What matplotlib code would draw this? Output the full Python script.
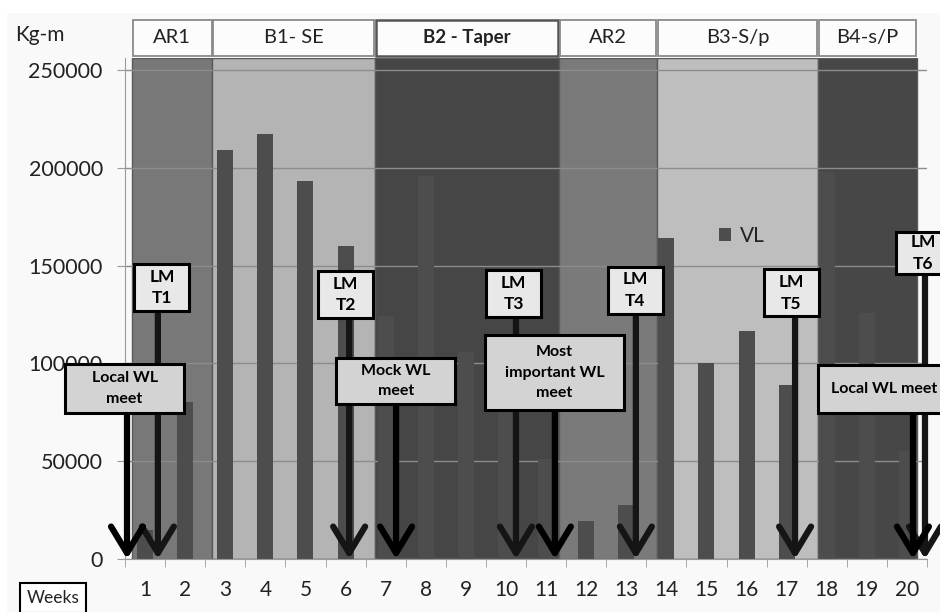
import matplotlib
matplotlib.use('Agg')
import matplotlib.pyplot as plt
from matplotlib.patches import Rectangle

plt.rcParams['font.family'] = ['Lato', 'DejaVu Sans']

# weekly volume load (Kg-m)
weeks = list(range(1, 21))
vl = [15000, 80000, 209000, 217500, 193000, 160000, 124000, 196000, 106000, 90000,
      51000, 19500, 27500, 164000, 100000, 116500, 89000, 198000, 125500, 55000]
yticks = [0, 50000, 100000, 150000, 200000, 250000]

# training phases shown as shaded bands
phase_names = ['AR1', 'B1- SE', 'B2 - Taper', 'AR2', 'B3-S/p', 'B4-s/P']
phase_edges = [0.675, 2.68, 6.73, 11.32, 13.77, 17.78, 20.25]
phase_colors = ['#787878', '#b4b4b4', '#464646', '#7a7a7a', '#bebebe', '#474747']

# LM test boxes: label, box centre x, box centre y, arrow x
lm_labels = ['LM\nT1', 'LM\nT2', 'LM\nT3', 'LM\nT4', 'LM\nT5', 'LM\nT6']
lm_x = [1.42, 6.00, 10.19, 13.22, 17.12, 20.40]
lm_y = [138800, 135200, 135700, 137300, 136000, 156400]
lm_arrow_x = [1.32, 6.09, 10.25, 13.24, 17.21, 20.45]

# competition boxes
meet_labels = ['Local WL\nmeet', 'Mock WL\nmeet', 'Most\nimportant WL\nmeet', 'Local WL meet']
meet_x = [0.49, 7.25, 11.21, 19.43]
meet_y = [87200, 91000, 95300, 86900]
meet_w = [2.97, 2.97, 3.47, 3.30]
meet_h = [25000, 23500, 38300, 24500]
meet_arrow_x = [0.55, 7.26, 11.22, 20.15]

fig = plt.figure(figsize=(9.4, 6.12), dpi=100)
fig.patch.set_facecolor('white')
fig.patches.append(Rectangle((7 / 940, 0), 1, 1 - 13 / 612, transform=fig.transFigure,
                             facecolor='#f9f9f9', edgecolor='none', zorder=-10))
ax = fig.add_axes([125 / 940, 53 / 612, 802 / 940, 501 / 612])
ax.set_facecolor('#f9f9f9')

ymax = 256100
ax.set_xlim(0.5, 20.5)
ax.set_ylim(0, ymax)

# bands and header boxes
for name, x0, x1, c in zip(phase_names, phase_edges[:-1], phase_edges[1:], phase_colors):
    ax.add_patch(Rectangle((x0, 0), x1 - x0, ymax, facecolor=c, edgecolor='#5a5a5a',
                           lw=1, zorder=0.5))
    bold = name == 'B2 - Taper'
    ax.add_patch(Rectangle((x0 + 0.02, 257200), x1 - x0 - 0.04, 18400, facecolor='#fcfcfc',
                           edgecolor='#555555' if bold else '#8a8a8a', lw=1.8 if bold else 1.3,
                           clip_on=False, zorder=3))
    ax.text((x0 + x1) / 2, 266400, name, ha='center', va='center',
            fontsize=13.5 if bold else 14.5,
            fontweight='bold' if bold else 'normal', color='#222222', clip_on=False, zorder=4)

for y in yticks:
    ax.axhline(y, color='#8c8c8c', lw=1, zorder=1)

ax.bar(weeks, vl, width=0.4, color='#4d4d4d', zorder=2, label='VL')

# arrows
for x, y in zip(lm_arrow_x, lm_y):
    ax.annotate('', xy=(x, 0), xytext=(x, y),
                arrowprops=dict(arrowstyle='->,head_length=1.9,head_width=1.15',
                                mutation_scale=10, lw=4.5, color='#151515',
                                shrinkA=0, shrinkB=0), zorder=4, annotation_clip=False)
for x, y in zip(meet_arrow_x, meet_y):
    ax.annotate('', xy=(x, 0), xytext=(x, y),
                arrowprops=dict(arrowstyle='->,head_length=1.9,head_width=1.15',
                                mutation_scale=10, lw=4.5, color='black',
                                shrinkA=0, shrinkB=0), zorder=4, annotation_clip=False)

# boxes
for lab, x, y in zip(lm_labels, lm_x, lm_y):
    h = 21500 if lab.endswith('6') else 24000
    ax.add_patch(Rectangle((x - 0.685, y - h / 2), 1.37, h, facecolor='#e8e8e8',
                           edgecolor='black', lw=2.2, clip_on=False, zorder=5))
    ax.text(x, y, lab, ha='center', va='center', fontsize=12.5, fontweight='bold',
            linespacing=1.45, clip_on=False, zorder=6)
for lab, x, y, w, h in zip(meet_labels, meet_x, meet_y, meet_w, meet_h):
    ax.add_patch(Rectangle((x - w / 2, y - h / 2), w, h, facecolor='#d3d3d3',
                           edgecolor='black', lw=2.2, clip_on=False, zorder=5))
    ax.text(x, y, lab, ha='center', va='center', fontsize=11.5, fontweight='bold',
            linespacing=1.6, clip_on=False, zorder=6)

# axes styling
for s in ['top', 'right']:
    ax.spines[s].set_visible(False)
for s in ['left', 'bottom']:
    ax.spines[s].set_color('#9a9a9a')
    ax.spines[s].set_zorder(3)

ax.set_yticks(yticks)
ax.set_yticklabels([str(v) for v in yticks])
ax.tick_params(axis='y', length=6, color='#9a9a9a', labelsize=15.5, pad=10, labelcolor='#222222')
ax.set_xticks(weeks)
ax.set_xticklabels([str(w) for w in weeks])
ax.set_xticks([w + 0.5 for w in [0] + weeks], minor=True)
ax.tick_params(axis='x', which='major', length=0, labelsize=15, pad=15, labelcolor='#222222')
ax.tick_params(axis='x', which='minor', length=6, color='#9a9a9a')

leg = ax.legend(loc='center left', bbox_to_anchor=(0.717, 0.645), frameon=False, fontsize=15,
                handlelength=0.6, handleheight=0.6, handletextpad=0.4)
for t in leg.get_texts():
    t.set_color('#222222')

fig.text(15 / 940, 1 - 35 / 612, 'Kg-m', fontsize=15, va='center', color='#222222')
fig.text(53 / 940, 1 - 598 / 612, 'Weeks', fontsize=12.5, ha='center', va='center',
         color='#222222',
         bbox=dict(boxstyle='square,pad=0.4', facecolor='white', edgecolor='black', lw=1.5))

fig.savefig('out.png', dpi=100, facecolor=fig.get_facecolor())
